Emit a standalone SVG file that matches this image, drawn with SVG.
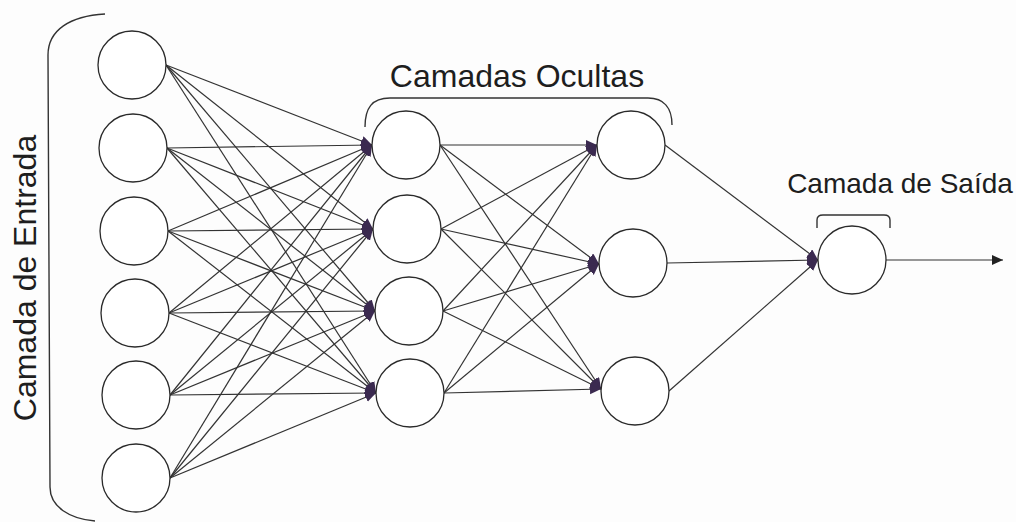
<svg xmlns="http://www.w3.org/2000/svg" width="1016" height="522" viewBox="0 0 1016 522">
<style>
.n{fill:#fff;stroke:#2a2a2a;stroke-width:1.3}
.c{stroke:#333;stroke-width:1.2;fill:none}
.a{marker-end:url(#ah)}
.t{font-family:"Liberation Sans",Arial,sans-serif;fill:#1e1e1e}
.b{fill:none;stroke:#333;stroke-width:1.4}
</style>
<defs>
<marker id="ah" markerUnits="userSpaceOnUse" markerWidth="14" markerHeight="12" refX="11" refY="5" orient="auto">
<path d="M0,0 L11,5 L0,10 z" fill="#3b2a50"/>
</marker>
<marker id="ao" markerUnits="userSpaceOnUse" markerWidth="14" markerHeight="12" refX="11" refY="5" orient="auto">
<path d="M0,0 L11,5 L0,10 z" fill="#222"/>
</marker>
</defs>
<rect width="1016" height="522" fill="#fdfdfd"/>
<g id="braces">
<path class="b" d="M105 14 C70 16 48 30 48 55 L50 487 C50 507 70 519 95 521"/>
<path class="b" d="M365 127 C365 108 372 98 390 98 L648 98 C664 98 672 108 672 125"/>
<path class="b" d="M817 228 L817 220 C817 216 819 215 823 215 L884 215 C888 215 890 216 890 220 L890 228"/>
</g>
<g id="labels">
<text class="t" font-size="32" text-anchor="middle" transform="translate(36,278) rotate(-90)">Camada de Entrada</text>
<text class="t" font-size="32" x="517" y="87" text-anchor="middle">Camadas Ocultas</text>
<text class="t" font-size="28" x="900" y="193" text-anchor="middle">Camada de Saída</text>
</g>
<g id="connectors">
<g class="c a">
<path d="M166 65 L372 145"/><path d="M166 65 L373 229"/><path d="M166 65 L375 311"/><path d="M166 65 L376 393"/>
<path d="M167 148 L372 145"/><path d="M167 148 L373 229"/><path d="M167 148 L375 311"/><path d="M167 148 L376 393"/>
<path d="M168 231 L372 145"/><path d="M168 231 L373 229"/><path d="M168 231 L375 311"/><path d="M168 231 L376 393"/>
<path d="M169 313 L372 145"/><path d="M169 313 L373 229"/><path d="M169 313 L375 311"/><path d="M169 313 L376 393"/>
<path d="M170 395 L372 145"/><path d="M170 395 L373 229"/><path d="M170 395 L375 311"/><path d="M170 395 L376 393"/>
<path d="M170 478 L372 145"/><path d="M170 478 L373 229"/><path d="M170 478 L375 311"/><path d="M170 478 L376 393"/>
<path d="M440 145 L597 145"/><path d="M440 145 L599 264"/><path d="M440 145 L601 389"/>
<path d="M441 229 L597 145"/><path d="M441 229 L599 264"/><path d="M441 229 L601 389"/>
<path d="M443 311 L597 145"/><path d="M443 311 L599 264"/><path d="M443 311 L601 389"/>
<path d="M444 393 L597 145"/><path d="M444 393 L599 264"/><path d="M444 393 L601 389"/>
<path d="M665 145 L818 260"/><path d="M667 263 L818 260"/><path d="M669 391 L818 260"/>
</g>
<path class="c" d="M886 260 L1003 260" marker-end="url(#ao)"/>
</g>
<g id="input-layer">
<circle id="in1" class="n" cx="132" cy="65" r="34"/>
<circle id="in2" class="n" cx="133" cy="148" r="34"/>
<circle id="in3" class="n" cx="134" cy="231" r="34"/>
<circle id="in4" class="n" cx="135" cy="313" r="34"/>
<circle id="in5" class="n" cx="136" cy="395" r="34"/>
<circle id="in6" class="n" cx="136" cy="478" r="34"/>
</g>
<g id="hidden-layer-1">
<circle id="h1a" class="n" cx="406" cy="145" r="34"/>
<circle id="h1b" class="n" cx="407" cy="229" r="34"/>
<circle id="h1c" class="n" cx="409" cy="311" r="34"/>
<circle id="h1d" class="n" cx="410" cy="393" r="34"/>
</g>
<g id="hidden-layer-2">
<circle id="h2a" class="n" cx="631" cy="145" r="34"/>
<circle id="h2b" class="n" cx="633" cy="263" r="34"/>
<circle id="h2c" class="n" cx="635" cy="391" r="34"/>
</g>
<g id="output-layer">
<circle id="out" class="n" cx="852" cy="260" r="34"/>
</g>
</svg>
